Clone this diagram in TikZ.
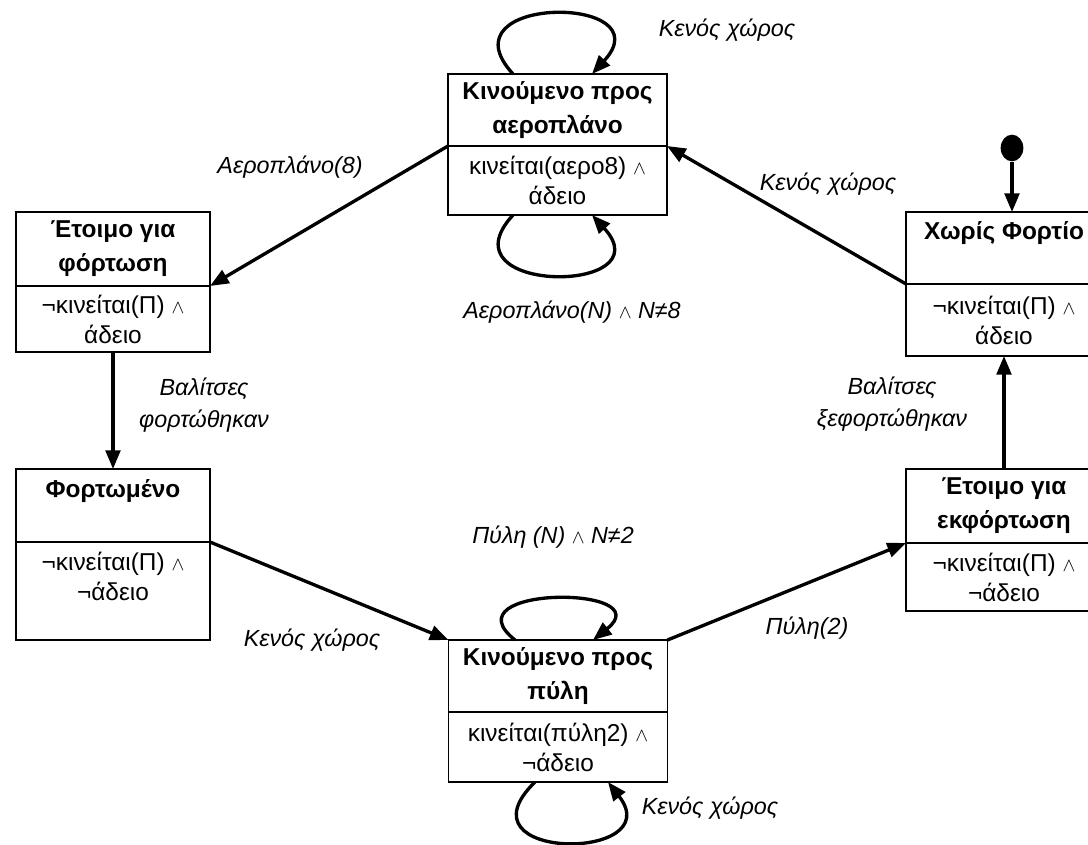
\documentclass[tikz,border=0pt]{standalone}
\usepackage{fontspec}
\setmainfont{Liberation Sans}
\usetikzlibrary{arrows.meta,shapes.geometric,calc}
\newcommand{\wedgesym}{{\fontsize{15}{15}\selectfont$\wedge$}}

\begin{document}
\begin{tikzpicture}[x=0.75pt,y=0.75pt,yscale=-1,xscale=1,
  statetitle/.style={draw, line width=1.3pt, inner sep=0pt, outer sep=0pt, align=center, font=\bfseries\fontsize{18.3}{25.5}\selectfont},
  statebody/.style={draw, line width=1.3pt, inner sep=0pt, outer sep=0pt, align=center, anchor=north, font=\fontsize{18.3}{22.5}\selectfont},
  trans/.style={line width=2.5pt, -{Triangle[length=14pt,width=11pt]}},
  guard/.style={font=\itshape\fontsize{17.5}{24}\selectfont, align=center, inner sep=0.75pt},
  initdot/.style={ellipse, fill=black, inner sep=0pt, minimum width=17pt, minimum height=20pt}]
\useasboundingbox (0,0) rectangle (1088,845);

%Shape: State boxes
\node [statetitle, minimum width=164.25pt, minimum height=54pt] (movplane) at (557.5,110) {Κινούμενο προς\\αεροπλάνο};
\node [statebody, minimum width=164.25pt, minimum height=51.75pt] (movplane-b) at (movplane.south) {κινείται(αερο8) \wedgesym\\άδειο};

\node [statetitle, minimum width=145.5pt, minimum height=55.5pt] (ldready) at (113,249) {Έτοιμο για\\φόρτωση};
\node [statebody, minimum width=145.5pt, minimum height=49.5pt] (ldready-b) at (ldready.south) {¬κινείται(Π) \wedgesym\\άδειο};

\node [statetitle, minimum width=145.5pt, minimum height=54.75pt] (loaded) at (113,505.5) {Φορτωμένο\\~};
\node [statebody, minimum width=145.5pt, minimum height=73.5pt] (loaded-b) at (loaded.south) {¬κινείται(Π) \wedgesym\\¬άδειο\\~};

\node [statetitle, minimum width=164.25pt, minimum height=54pt] (movgate) at (558,676) {Κινούμενο προς\\πύλη};
\node [statebody, minimum width=164.25pt, minimum height=52.5pt] (movgate-b) at (movgate.south) {κινείται(πύλη2) \wedgesym\\¬άδειο};

\node [statetitle, minimum width=147pt, minimum height=55.5pt] (unready) at (1004,506) {Έτοιμο για\\εκφόρτωση};
\node [statebody, minimum width=147pt, minimum height=51pt] (unready-b) at (unready.south) {¬κινείται(Π) \wedgesym\\¬άδειο};

\node [statetitle, minimum width=147pt, minimum height=54pt] (empty) at (1004,248) {Χωρίς Φορτίο\\~};
\node [statebody, minimum width=147pt, minimum height=54pt] (empty-b) at (empty.south) {¬κινείται(Π) \wedgesym\\άδειο};

%Shape: Initial state
\node [initdot] (start) at (1012,148) {};

%Straight Lines
\draw [trans] (start) -- (start |- empty.north);
\draw [trans] (movplane.south west) -- (ldready.south east);
\draw [trans] (ldready-b.south) -- (loaded.north);
\draw [trans] (loaded.south east) -- (movgate.north west);
\draw [trans] (movgate.north east) -- (unready.south west);
\draw [trans] (unready.north) -- (empty-b.south);
\draw [trans] (empty.south west) -- (movplane.south east);

%Curves: self loops
\draw [trans] ($(movplane.north)+(-44.5,0)$) .. controls ($(movplane.north)+(-118,-80)$) and ($(movplane.north)+(108,-80)$) .. ($(movplane.north)+(34.5,0)$);
\draw [trans] ($(movplane-b.south)+(-44.5,0)$) .. controls ($(movplane-b.south)+(-118,80)$) and ($(movplane-b.south)+(108,80)$) .. ($(movplane-b.south)+(34.5,0)$);
\draw [trans] ($(movgate.north)+(-43,0)$) .. controls ($(movgate.north)+(-112,-55)$) and ($(movgate.north)+(104,-55)$) .. ($(movgate.north)+(35,0)$);
\draw [trans] ($(movgate-b.south)+(-23,0)$) .. controls ($(movgate-b.south)+(-105,80)$) and ($(movgate-b.south)+(112,80)$) .. ($(movgate-b.south)+(50,0)$);

% Text Node
\node [guard] (g-planeloop) at (727,30) {Κενός χώρος};
\node [guard] (g-plane8) at (290,167) {Αεροπλάνο(8)};
\node [guard] (g-empty) at (828,184) {Κενός χώρος};
\node [guard] (g-planeN) at (572,312) {Αεροπλάνο(N) \wedgesym\ N≠8};
\node [guard] (g-loaded) at (204,405) {Βαλίτσες\\φορτώθηκαν};
\node [guard] (g-unloaded) at (892,404) {Βαλίτσες\\ξεφορτώθηκαν};
\node [guard] (g-gateN) at (553,537) {Πύλη (N) \wedgesym\ N≠2};
\node [guard] (g-space) at (312,640) {Κενός χώρος};
\node [guard] (g-gate2) at (807,628) {Πύλη(2)};
\node [guard] (g-gateloop) at (710,808) {Κενός χώρος};

\end{tikzpicture}
\end{document}
